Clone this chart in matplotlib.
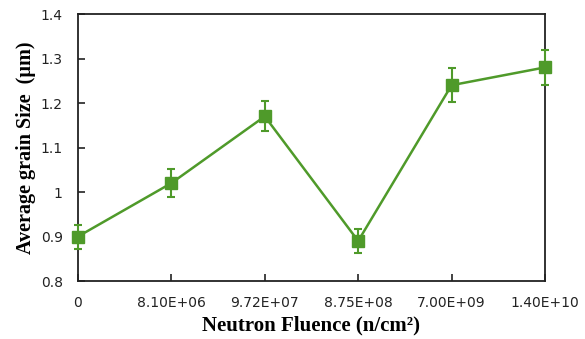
import matplotlib
matplotlib.use('Agg')
import matplotlib.pyplot as plt

# data
fluence_labels = ['0', '8.10E+06', '9.72E+07', '8.75E+08', '7.00E+09', '1.40E+10']
grain_size = [0.90, 1.02, 1.17, 0.89, 1.24, 1.28]
grain_err = [0.027, 0.032, 0.034, 0.027, 0.038, 0.04]

green = '#4f9a2a'

fig = plt.figure(figsize=(5.85, 3.39), dpi=100)
ax = fig.add_axes([0.1333, 0.171, 0.7983, 0.7877])

x = list(range(len(fluence_labels)))
ax.errorbar(x, grain_size, yerr=grain_err, color=green, marker='s', markersize=8,
            linewidth=1.8, elinewidth=1.5, capsize=3, capthick=1.5, clip_on=False, zorder=3)

ax.set_xlim(0, len(fluence_labels) - 1)
ax.set_ylim(0.8, 1.4)
ax.set_xticks(x)
ax.set_xticklabels(fluence_labels)
ax.set_yticks([0.8, 0.9, 1.0, 1.1, 1.2, 1.3, 1.4])
ax.set_yticklabels(['0.8', '0.9', '1', '1.1', '1.2', '1.3', '1.4'])

ax.tick_params(direction='in', length=5, width=1.2, labelsize=10, colors='#222222', pad=11)
for s in ax.spines.values():
    s.set_linewidth(1.3)
    s.set_color('#222222')

ax.set_xlabel('Neutron Fluence (n/cm²)', family='Liberation Serif', fontweight='bold',
              fontsize=15, labelpad=4)
ax.set_ylabel('Average grain Size  (µm)', family='Liberation Serif', fontweight='bold',
              fontsize=14.5, labelpad=3)

plt.savefig('out.png', dpi=100)
